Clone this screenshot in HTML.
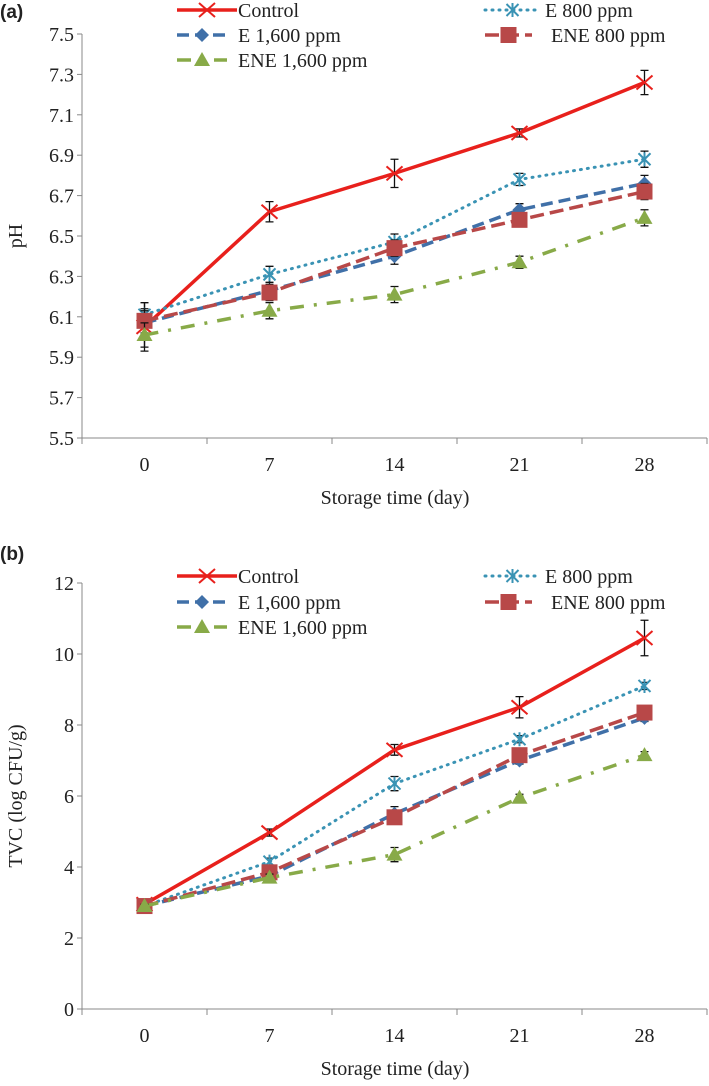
<!DOCTYPE html>
<html><head><meta charset="utf-8"><style>
body{margin:0;background:#fff;width:709px;height:1081px;overflow:hidden}
svg text{font-family:"Liberation Serif",serif;fill:#222}
</style></head><body>
<svg id="s" width="709" height="1081"></svg>
<script>
const days=[0,7,14,21,28];
const seriesNames=["Control","E 800 ppm","E 1,600 ppm","ENE 800 ppm","ENE 1,600 ppm"];
const phControl=[6.05,6.62,6.81,7.01,7.26];
const phE800=[6.11,6.31,6.47,6.78,6.88];
const phE1600=[6.07,6.23,6.40,6.63,6.76];
const phENE800=[6.08,6.22,6.44,6.58,6.72];
const phENE1600=[6.01,6.13,6.21,6.37,6.59];
const phControlErr=[0.12,0.05,0.07,0.02,0.06];
const phOtherErr=[0.06,0.04,0.04,0.03,0.04];
const phTicks=[5.5,5.7,5.9,6.1,6.3,6.5,6.7,6.9,7.1,7.3,7.5];
const tvcControl=[2.95,4.97,7.3,8.5,10.45];
const tvcE800=[2.9,4.15,6.35,7.6,9.1];
const tvcE1600=[2.9,3.75,5.5,7.0,8.2];
const tvcENE800=[2.9,3.85,5.4,7.15,8.35];
const tvcENE1600=[2.9,3.7,4.35,5.95,7.15];
const tvcControlErr=[0.1,0.1,0.15,0.3,0.5];
const tvcOtherErr=[0.05,0.1,0.2,0.1,0.1];
const tvcTicks=[0,2,4,6,8,10,12];

const NS="http://www.w3.org/2000/svg";
const svg=document.getElementById('s');
function mk(t,a,p){const e=document.createElementNS(NS,t);for(const k in a)e.setAttribute(k,a[k]);(p||svg).appendChild(e);return e;}
const styles=[
 {c:"#e8201c",w:3.5,d:"",m:"x"},
 {c:"#3a93b4",w:3,d:"1 6",m:"star"},
 {c:"#4070a8",w:3.5,d:"12 6",m:"diamond"},
 {c:"#b84848",w:3.5,d:"14 6",m:"square"},
 {c:"#88aa48",w:3.5,d:"14 10 3 10",m:"tri"}
];
function marker(g,m,x,y,c){
 if(m==="x"){mk('path',{d:`M${x-8} ${y-7}L${x+8} ${y+7}M${x-8} ${y+7}L${x+8} ${y-7}`,stroke:c,'stroke-width':2,fill:'none'},g);}
 else if(m==="star"){mk('path',{d:`M${x-6} ${y-6}L${x+6} ${y+6}M${x-6} ${y+6}L${x+6} ${y-6}M${x} ${y-7}L${x} ${y+7}`,stroke:c,'stroke-width':2,fill:'none'},g);}
 else if(m==="diamond"){mk('path',{d:`M${x} ${y-7}L${x+7} ${y}L${x} ${y+7}L${x-7} ${y}Z`,fill:c},g);}
 else if(m==="square"){mk('rect',{x:x-8,y:y-8,width:16,height:16,fill:c},g);}
 else {mk('path',{d:`M${x} ${y-8}L${x+8} ${y+6}L${x-8} ${y+6}Z`,fill:c},g);}
}
function chart(o){
 const g=mk('g',{});
 
 
 const x0=82,x1=707,band=(x1-x0)/days.length;
 const X=i=>x0+band*(i+0.5);
 const Y=v=>o.yb-(v-o.min)/(o.max-o.min)*(o.yb-o.yt);
 mk('line',{x1:x0,y1:o.yt,x2:x0,y2:o.yb,stroke:'#888'},g);
 mk('line',{x1:x0,y1:o.yb,x2:x1,y2:o.yb,stroke:'#888'},g);
 o.ticks.forEach(t=>{mk('line',{x1:x0-5,y1:Y(t),x2:x0,y2:Y(t),stroke:'#888'},g);
  const tx=mk('text',{x:74,y:Y(t)+7,'text-anchor':'end','font-size':20},g);tx.textContent=o.fmt(t);
  });
 for(let i=0;i<=days.length;i++)mk('line',{x1:x0+band*i,y1:o.yb,x2:x0+band*i,y2:o.yb+6,stroke:'#888'},g);
 days.forEach((d,i)=>{const tx=mk('text',{x:X(i),y:o.yb+33,'text-anchor':'middle','font-size':20},g);tx.textContent=d;
  });
 const xt=mk('text',{x:395,y:o.yb+66,'text-anchor':'middle','font-size':20},g);xt.textContent="Storage time (day)";
 
 const yt=mk('text',{x:0,y:0,'text-anchor':'middle','font-size':20,transform:`translate(22,${(o.yt+o.yb)/2}) rotate(-90)`},g);yt.textContent=o.ylabel;
 
 const pl=mk('text',{x:0,y:o.labY,'font-size':19,'font-weight':'bold',style:'font-family:"Liberation Sans",sans-serif'},g);pl.textContent=o.panel;
 
 o.data.forEach((vals,si)=>{
  const st=styles[si];const sg=mk('g',{},g);
  
  mk('polyline',{points:vals.map((v,i)=>X(i)+','+Y(v)).join(' '),fill:'none',stroke:st.c,'stroke-width':st.w,'stroke-dasharray':st.d,'stroke-linecap':si==1?'round':'butt'},sg);
  const er=si===0?o.errC:o.errO;
  vals.forEach((v,i)=>{const e=er[i];
   mk('path',{d:`M${X(i)} ${Y(v+e)}L${X(i)} ${Y(v-e)}M${X(i)-4} ${Y(v+e)}L${X(i)+4} ${Y(v+e)}M${X(i)-4} ${Y(v-e)}L${X(i)+4} ${Y(v-e)}`,stroke:'#111','stroke-width':1.3,fill:'none'},sg);
   marker(sg,st.m,X(i),Y(v),st.c);});
 });
 const leg=[[177,237,238,0],[485,540,545,0],[177,227,238,1],[485,532,551,1],[177,227,238,2]];
 leg.forEach((L,si)=>{const st=styles[si];const y=o.legY[L[3]];
  const lg=mk('g',{},g);
  mk('line',{x1:L[0],y1:y,x2:L[1],y2:y,stroke:st.c,'stroke-width':st.w,'stroke-dasharray':st.d,'stroke-linecap':si==1?'round':'butt'},lg);
  marker(lg,st.m,(L[0]+L[1])/2,y,st.c);
  const t=mk('text',{x:L[2],y:y+7,'font-size':20},lg);t.textContent=seriesNames[si];});
}
chart({name:'ph-chart',panel:'(a)',labY:18,yt:34,yb:438,min:5.5,max:7.5,ticks:phTicks,fmt:t=>t.toFixed(1),ylabel:'pH',
 data:[phControl,phE800,phE1600,phENE800,phENE1600],errC:phControlErr,errO:phOtherErr,legY:[10,35,60]});
chart({name:'tvc-chart',panel:'(b)',labY:560,yt:583,yb:1009,min:0,max:12,ticks:tvcTicks,fmt:t=>t,ylabel:'TVC (log CFU/g)',
 data:[tvcControl,tvcE800,tvcE1600,tvcENE800,tvcENE1600],errC:tvcControlErr,errO:tvcOtherErr,legY:[576,602,627]});
</script>
</body></html>
